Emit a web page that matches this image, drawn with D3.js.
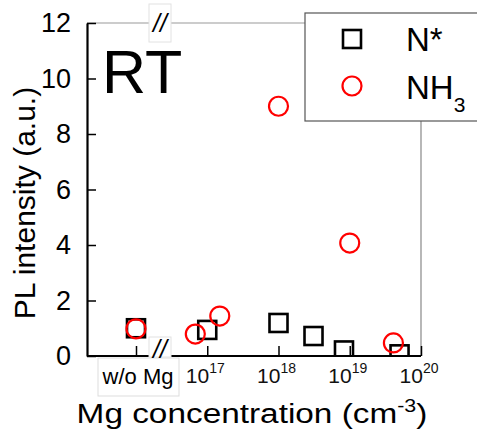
<!DOCTYPE html>
<html>
<head>
<meta charset="utf-8">
<script src="https://cdn.jsdelivr.net/npm/d3@7"></script>
<style>
  html, body { margin: 0; padding: 0; background: #fff; }
  svg text { font-family: "Liberation Sans", Arial, sans-serif; }
</style>
</head>
<body>
<div id="chart"></div>
<script>
// x positions are Mg concentration (cm^-3); "w/o Mg" sits one decade left of 1e17
var WO_MG = 1e16;
var xTickValues = [1e16, 1e17, 1e18, 1e19, 1e20];
var xTickExp = [null, "17", "18", "19", "20"];
var yTickValues = [0, 2, 4, 6, 8, 10, 12];

// N* series
var nStarConc = [WO_MG, 1e17, 1e18, 3.1e18, 8.3e18, 5e19];
var nStarPL = [1.0, 0.94, 1.19, 0.72, 0.2, 0.06];

// NH3 series
var nh3Conc = [WO_MG, 6.8e16, 1.5e17, 1e18, 1e19, 4.1e19];
var nh3PL = [0.98, 0.79, 1.44, 9.0, 4.07, 0.47];

var width = 477, height = 436;
var plotLeft = 87, plotRight = 421, plotTop = 23, plotBottom = 356;

var svg = d3.select("#chart").append("svg")
  .attr("width", width)
  .attr("height", height);

var x = d3.scaleLog().domain([1e16, 1e20]).range([136, 421]);
var y = d3.scaleLinear().domain([0, 12]).range([plotBottom, plotTop]);

svg.append("defs").append("clipPath").attr("id", "plotclip")
  .append("rect")
    .attr("x", plotLeft).attr("y", 0)
    .attr("width", plotRight - plotLeft + 20).attr("height", plotBottom);

// gray frame (top and right)
svg.append("line")
  .attr("x1", plotLeft).attr("x2", plotRight).attr("y1", plotTop).attr("y2", plotTop)
  .attr("stroke", "#999").attr("stroke-width", 1.2);
svg.append("line")
  .attr("x1", plotRight).attr("x2", plotRight).attr("y1", plotTop).attr("y2", plotBottom)
  .attr("stroke", "#888").attr("stroke-width", 1.2);

// markers
var marks = svg.append("g").attr("clip-path", "url(#plotclip)");
var sq = 18;
marks.selectAll("rect.nstar")
  .data(d3.range(nStarConc.length))
  .enter().append("rect")
    .attr("class", "nstar")
    .attr("x", function(i) { return x(nStarConc[i]) - sq / 2; })
    .attr("y", function(i) { return y(nStarPL[i]) - sq / 2; })
    .attr("width", sq).attr("height", sq)
    .attr("fill", "none").attr("stroke", "#000").attr("stroke-width", 2.6);

marks.selectAll("circle.nh3")
  .data(d3.range(nh3Conc.length))
  .enter().append("circle")
    .attr("class", "nh3")
    .attr("cx", function(i) { return x(nh3Conc[i]); })
    .attr("cy", function(i) { return y(nh3PL[i]); })
    .attr("r", 9.5)
    .attr("fill", "none").attr("stroke", "#ff0000").attr("stroke-width", 2.2);

// y axis
var yAxis = d3.axisLeft(y).tickValues(yTickValues).tickSizeInner(-9).tickSizeOuter(0).tickPadding(16);
var gy = svg.append("g").attr("transform", "translate(" + plotLeft + ",0)").call(yAxis);
gy.select(".domain").attr("stroke", "#000").attr("stroke-width", 2.2);
gy.selectAll(".tick line").attr("stroke", "#000").attr("stroke-width", 1.5);
gy.selectAll(".tick text")
  .style("font-size", "27px").attr("fill", "#000")
  .attr("font-family", "Liberation Sans, Arial, sans-serif");

// x axis
var xAxis = d3.axisBottom(x).tickValues(xTickValues).tickSizeInner(-10).tickSizeOuter(0).tickFormat("");
var gx = svg.append("g").attr("transform", "translate(0," + plotBottom + ")").call(xAxis);
gx.select(".domain").attr("d", "M" + plotLeft + ",0H" + plotRight)
  .attr("stroke", "#000").attr("stroke-width", 2.2);
gx.selectAll(".tick line").attr("stroke", "#000").attr("stroke-width", 1.5);

// x tick labels: 10^n
xTickValues.forEach(function(v, i) {
  if (xTickExp[i] === null) return;
  var t = svg.append("text")
    .attr("x", x(v) - 2).attr("y", 383)
    .attr("text-anchor", "middle")
    .style("font-size", "21px").attr("fill", "#111");
  t.append("tspan").text("10");
  t.append("tspan").attr("dy", -10).style("font-size", "14px").text(xTickExp[i]);
});

// "w/o Mg" label with box
svg.append("rect")
  .attr("x", 98).attr("y", 358).attr("width", 81).attr("height", 38)
  .attr("fill", "#fff").attr("stroke", "#ddd").attr("stroke-width", 1);
svg.append("text")
  .attr("x", x(WO_MG) + 2).attr("y", 384)
  .attr("text-anchor", "middle")
  .style("font-size", "22px").attr("fill", "#000")
  .text("w/o Mg");

// axis breaks
function axisBreak(bx, by, bw, bh, ty) {
  svg.append("rect")
    .attr("x", bx).attr("y", by).attr("width", bw).attr("height", bh)
    .attr("fill", "#fff").attr("stroke", "#e2e2e2").attr("stroke-width", 1);
  svg.append("text")
    .attr("x", bx + bw / 2).attr("y", ty)
    .attr("text-anchor", "middle")
    .style("font-size", "25px").style("font-style", "italic")
    .attr("fill", "#000")
    .text("//");
}
axisBreak(149, 4, 22, 38, 32);
axisBreak(149, 337, 22, 20, 358);

// RT
svg.append("text")
  .attr("x", 102).attr("y", 93)
  .style("font-size", "61px").attr("fill", "#000")
  .text("RT");

// legend
var lg = svg.append("g");
lg.append("rect")
  .attr("x", 305).attr("y", 13).attr("width", 200).attr("height", 108)
  .attr("fill", "#fff").attr("stroke", "#555").attr("stroke-width", 1.2);
lg.append("rect")
  .attr("x", 352 - 9).attr("y", 39 - 9).attr("width", 18).attr("height", 18)
  .attr("fill", "none").attr("stroke", "#000").attr("stroke-width", 2.6);
lg.append("circle")
  .attr("cx", 352).attr("cy", 86).attr("r", 9.5)
  .attr("fill", "none").attr("stroke", "#ff0000").attr("stroke-width", 2.2);
lg.append("text")
  .attr("x", 406).attr("y", 51)
  .style("font-size", "33px").attr("fill", "#000")
  .text("N*");
var nh = lg.append("text")
  .attr("x", 406).attr("y", 99)
  .style("font-size", "33px").attr("fill", "#000");
nh.append("tspan").text("NH");
nh.append("tspan").attr("dy", 13).style("font-size", "21px").text("3");

// axis titles
var xt = svg.append("text")
  .attr("text-anchor", "middle")
  .style("font-size", "28px").attr("fill", "#000");
xt.append("tspan").text("Mg concentration (cm");
xt.append("tspan").attr("dy", -11).style("font-size", "18px").text("-3");
xt.append("tspan").attr("dy", 11).text(")");
var xw = xt.node().getComputedTextLength();
xt.attr("transform", "translate(252,423) scale(" + (351 / xw) + ",1)");

svg.append("text")
  .attr("transform", "translate(35,203) rotate(-90)")
  .attr("text-anchor", "middle")
  .style("font-size", "30px").attr("fill", "#000")
  .text("PL intensity (a.u.)");
</script>
</body>
</html>
